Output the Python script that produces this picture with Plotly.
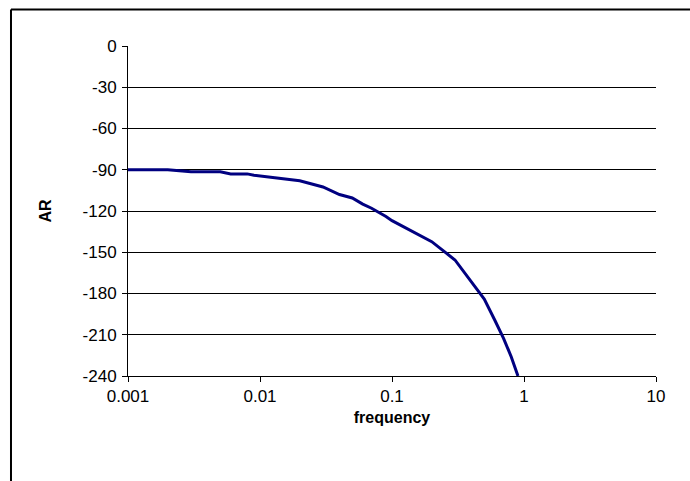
import plotly.graph_objects as go

# Frequency response data
frequency = [0.001, 0.002, 0.003, 0.004, 0.005, 0.006, 0.007, 0.008, 0.009,
             0.01, 0.02, 0.03, 0.04, 0.05, 0.06, 0.07, 0.08, 0.09,
             0.1, 0.2, 0.3, 0.4, 0.5, 0.6, 0.7, 0.8, 0.9]
ar = [-90, -90, -91.5, -91.5, -91.5, -93, -93, -93, -94,
      -94.5, -98, -102.5, -108, -110.5, -115, -118, -121, -124,
      -127, -142.3, -155.6, -171.4, -184, -199.3, -212.6, -226, -240]

x_ticks = [0.001, 0.01, 0.1, 1, 10]
x_tick_text = ["0.001", "0.01", "0.1", "1", "10"]
y_ticks = [0, -30, -60, -90, -120, -150, -180, -210, -240]
y_tick_text = ["0", "-30", "-60", "-90", "-120", "-150", "-180", "-210", "-240"]

FONT = "Liberation Sans, Arial, sans-serif"

fig = go.Figure()
fig.add_trace(go.Scatter(
    x=frequency, y=ar, mode="lines",
    line=dict(color="#000080", width=3),
    showlegend=False,
))

# Chart-area border (top and left edges)
fig.add_shape(type="line", xref="paper", yref="paper",
              x0=-0.2216, x1=1.2, y0=1.1106, y1=1.1106,
              line=dict(color="black", width=2))
fig.add_shape(type="line", xref="paper", yref="paper",
              x0=-0.2216, x1=-0.2216, y0=-0.4, y1=1.1106,
              line=dict(color="black", width=2))

fig.update_layout(
    width=690, height=481,
    margin=dict(l=128, r=34, t=46, b=105),
    paper_bgcolor="white", plot_bgcolor="white",
    font=dict(family=FONT, color="black", size=17),
    xaxis=dict(
        type="log", range=[-3, 1],
        tickvals=x_ticks, ticktext=x_tick_text,
        ticks="outside", ticklen=5, tickcolor="black",
        showline=True, linecolor="black", linewidth=1,
        showgrid=False, zeroline=False,
        tickfont=dict(size=17),
        title=dict(text="<b>frequency</b>", font=dict(size=16), standoff=6),
    ),
    yaxis=dict(
        range=[-240, 0], tickvals=y_ticks, ticktext=y_tick_text,
        ticks="outside", ticklen=5, tickcolor="black",
        showline=True, linecolor="black", linewidth=1,
        showgrid=True, gridcolor="black", gridwidth=1,
        zeroline=False,
        tickfont=dict(size=17),
        ticklabelstandoff=2,
        title=dict(text="<b>AR</b>", font=dict(size=16), standoff=26),
    ),
)

fig.write_html("out.html")
